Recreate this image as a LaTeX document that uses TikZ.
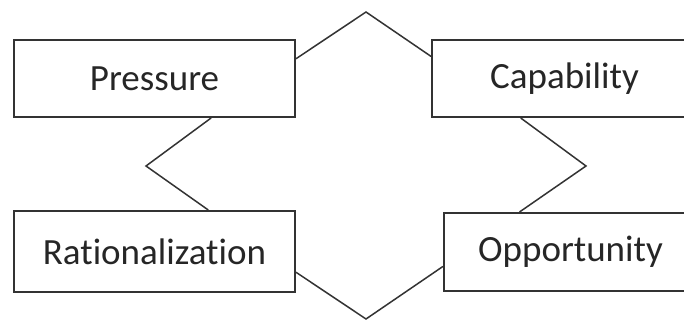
\documentclass[tikz,border=0pt]{standalone}
\usepackage{fontspec}
\setmainfont{Carlito}[Ligatures={NoCommon}]
\usetikzlibrary{calc}
\definecolor{lineclr}{HTML}{333333}
\begin{document}
\begin{tikzpicture}[x=1pt,y=-1pt,
  box/.style={draw=lineclr,line width=2pt,fill=white,inner sep=0pt,
    font=\fontsize{37}{44}\selectfont,text=black!85},
  link/.style={draw=lineclr,line width=1.5pt,line join=miter}]
\useasboundingbox (0,0) rectangle (684,320);
\clip (0,0) rectangle (684,320);
\fill[white] (0,0) rectangle (684,320);
\node[box,minimum width=281pt,minimum height=77pt] (P) at (154.5,78.5) {Pressure};
\node[box,minimum width=265pt,minimum height=77pt] (C) at (564.5,78.5) {Capability};
\node[box,minimum width=281pt,minimum height=81pt] (R) at (154.5,251.5) {Rationalization};
\node[box,minimum width=253pt,minimum height=78pt] (O) at (570.5,252) {Opportunity};
\coordinate (top) at (366,12);
\coordinate (bot) at (366,319);
\coordinate (lft) at (146,166);
\coordinate (rgt) at (586,166);
\draw[link] ($(P.north east)!0.25!(P.south east)$) -- (top) -- ($(C.north west)!0.22!(C.south west)$);
\draw[link] ($(R.north east)!0.75!(R.south east)$) -- (bot) -- ($(O.north west)!0.68!(O.south west)$);
\draw[link] ($(P.south west)!0.70!(P.south east)$) -- (lft) -- ($(R.north west)!0.69!(R.north east)$);
\draw[link] ($(C.south west)!0.336!(C.south east)$) -- (rgt) -- ($(O.north west)!0.30!(O.north east)$);
\end{tikzpicture}
\end{document}
